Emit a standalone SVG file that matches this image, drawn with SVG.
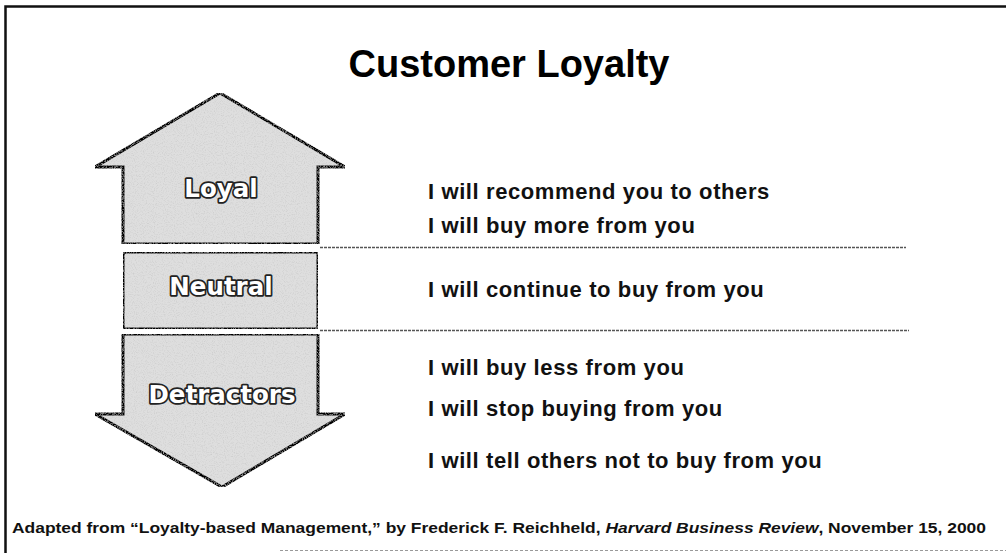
<svg xmlns="http://www.w3.org/2000/svg" width="1006" height="553" viewBox="0 0 1006 553">
  <defs>
    <filter id="grain" x="0" y="0" width="100%" height="100%">
      <feTurbulence type="fractalNoise" baseFrequency="0.9" numOctaves="2" seed="3" result="n"/>
      <feColorMatrix in="n" type="matrix" values="0 0 0 0 0.55  0 0 0 0 0.55  0 0 0 0 0.55  0 0 0 1.6 -0.75" result="g"/>
      <feComposite in="g" in2="SourceGraphic" operator="atop"/>
    </filter>
    <style>
      .shape { fill: #dedede; stroke: #000; stroke-width: 3; stroke-linejoin: miter; }
      .label { font-family: "DejaVu Sans", "Liberation Sans", sans-serif; font-weight: bold; font-size: 24.5px; fill: #fff; stroke: #222; stroke-width: 3.5; paint-order: stroke; stroke-linejoin: round; text-anchor: middle; }
      .item { font-family: "Liberation Sans", Arial, sans-serif; font-weight: bold; font-size: 22px; letter-spacing: 0.6px; fill: #111; }
      .title { font-family: "Liberation Sans", Arial, sans-serif; font-weight: bold; font-size: 38px; fill: #000; text-anchor: middle; }
      .note { font-family: "Liberation Sans", Arial, sans-serif; font-weight: bold; font-size: 15px; fill: #111; }
      .sep { stroke: #555; stroke-width: 1.5; stroke-dasharray: 3 1; fill: none; }
    </style>
  </defs>

  <rect width="1006" height="553" fill="#fff"/>

  <!-- page frame -->
  <g id="frame" fill="none">
    <path d="M5.5 553 V6.5 H1006" stroke="#111" stroke-width="2.5"/>
    <line x1="280" y1="550.5" x2="1006" y2="550.5" stroke="#999" stroke-width="1.2" stroke-dasharray="3 2"/>
  </g>

  <text class="title" x="509" y="77">Customer Loyalty</text>

  <!-- band separators -->
  <g id="connectors">
    <line class="sep" x1="320" y1="247.5" x2="906" y2="247.5"/>
    <line class="sep" x1="320" y1="330.5" x2="909" y2="330.5"/>
  </g>

  <g id="loyal">
    <polygon class="shape" filter="url(#grain)" points="220,93 345,167 318,167 318,244 123,244 123,167 95,167"/>
    <text class="label" x="221" y="197">Loyal</text>
  </g>

  <g id="neutral">
    <rect class="shape" filter="url(#grain)" x="123" y="252" width="195" height="77" rx="3"/>
    <text class="label" x="221" y="295">Neutral</text>
  </g>

  <g id="detractors">
    <polygon class="shape" filter="url(#grain)" points="123,334 318,334 318,414 345,414 222,487 95,414 123,414"/>
    <text class="label" x="222" y="403">Detractors</text>
  </g>

  <g id="statements">
    <text class="item" x="428" y="199">I will recommend you to others</text>
    <text class="item" x="428" y="233">I will buy more from you</text>
    <text class="item" x="428" y="297">I will continue to buy from you</text>
    <text class="item" x="428" y="375">I will buy less from you</text>
    <text class="item" x="428" y="416">I will stop buying from you</text>
    <text class="item" x="428" y="468">I will tell others not to buy from you</text>
  </g>

  <text class="note" x="12" y="533" textLength="974" lengthAdjust="spacingAndGlyphs">Adapted from “Loyalty-based Management,” by Frederick F. Reichheld, <tspan font-style="italic">Harvard Business Review</tspan>, November 15, 2000</text>
</svg>
